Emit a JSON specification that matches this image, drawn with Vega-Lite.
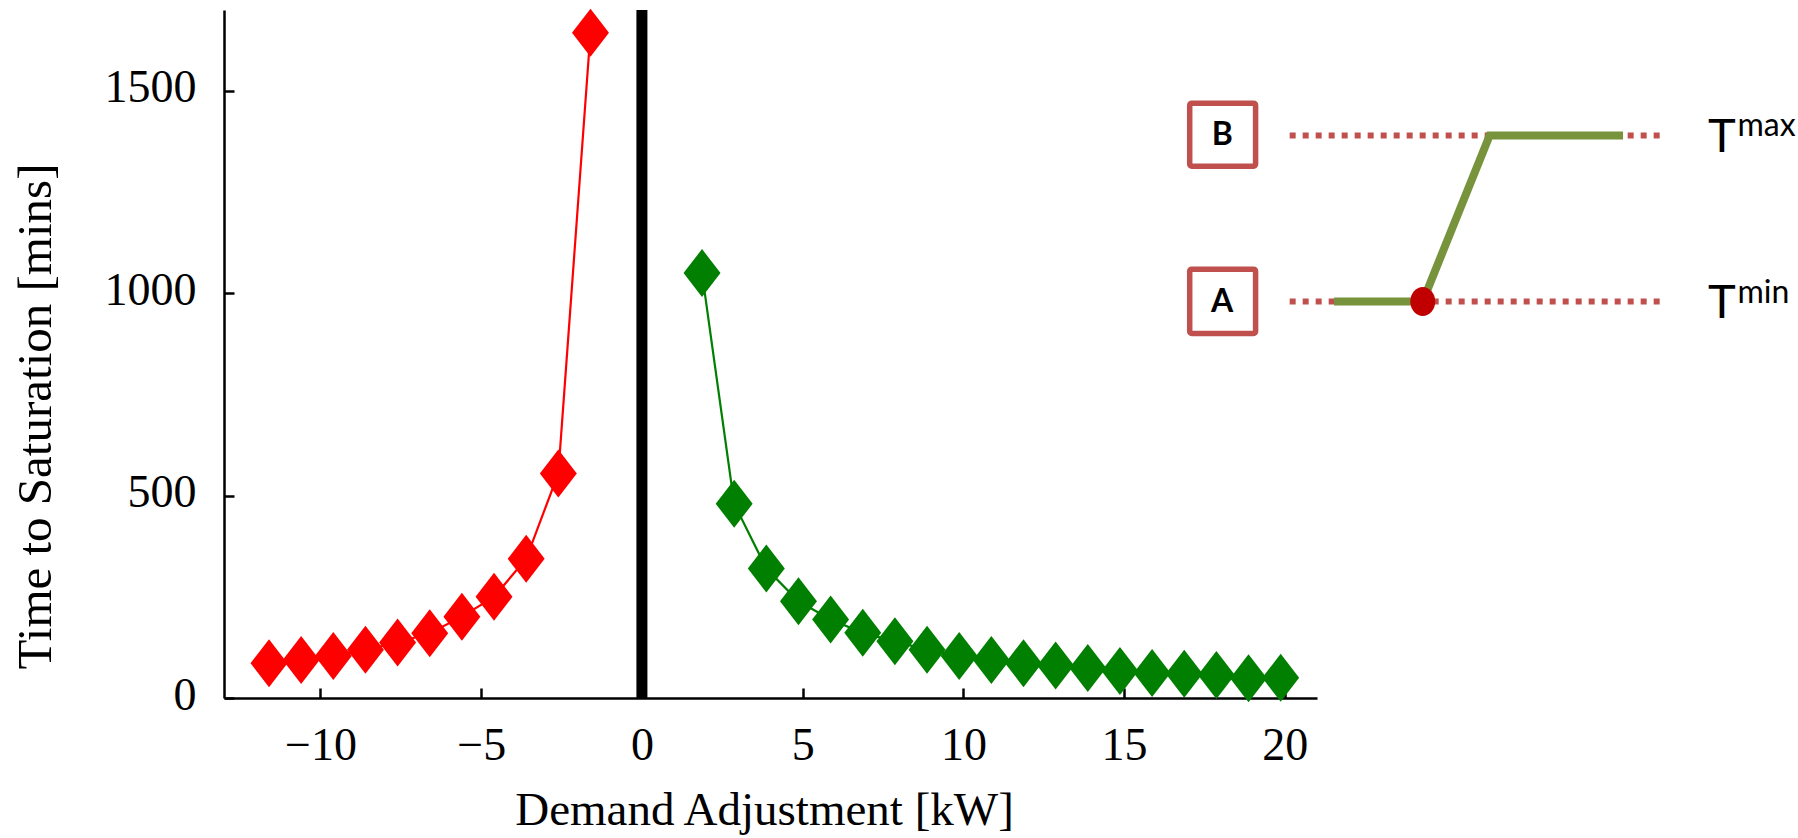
{
  "$schema": "https://vega.github.io/schema/vega-lite/v6.json",
  "width": 1093,
  "height": 688,
  "autosize": {"type": "none"},
  "padding": {"left": 224, "top": 10, "right": 481, "bottom": 140},
  "background": "white",
  "config": {
    "view": {"stroke": null},
    "axis": {
      "domainColor": "black", "tickColor": "black", "labelColor": "black", "titleColor": "black",
      "domainWidth": 2.5, "tickWidth": 2.5, "grid": false, "tickSize": -10,
      "labelFont": "Liberation Serif", "titleFont": "Liberation Serif",
      "labelFontSize": 46, "titleFontSize": 47, "titleFontWeight": "normal",
      "labelOverlap": false, "labelFlush": false
    }
  },
  "datasets": {
    "curves": [
      {"x": -11.6, "y": 86, "series": "negative"},
      {"x": -10.6, "y": 94, "series": "negative"},
      {"x": -9.6, "y": 104, "series": "negative"},
      {"x": -8.6, "y": 119, "series": "negative"},
      {"x": -7.6, "y": 137, "series": "negative"},
      {"x": -6.6, "y": 160, "series": "negative"},
      {"x": -5.6, "y": 201, "series": "negative"},
      {"x": -4.6, "y": 250, "series": "negative"},
      {"x": -3.6, "y": 344, "series": "negative"},
      {"x": -2.6, "y": 555, "series": "negative"},
      {"x": -1.6, "y": 1644, "series": "negative"},
      {"x": 1.87, "y": 1050, "series": "positive"},
      {"x": 2.87, "y": 480, "series": "positive"},
      {"x": 3.87, "y": 320, "series": "positive"},
      {"x": 4.87, "y": 239, "series": "positive"},
      {"x": 5.87, "y": 194, "series": "positive"},
      {"x": 6.87, "y": 161, "series": "positive"},
      {"x": 7.87, "y": 140, "series": "positive"},
      {"x": 8.87, "y": 119, "series": "positive"},
      {"x": 9.87, "y": 104, "series": "positive"},
      {"x": 10.87, "y": 94, "series": "positive"},
      {"x": 11.87, "y": 86, "series": "positive"},
      {"x": 12.87, "y": 80, "series": "positive"},
      {"x": 13.87, "y": 74, "series": "positive"},
      {"x": 14.87, "y": 67, "series": "positive"},
      {"x": 15.87, "y": 62, "series": "positive"},
      {"x": 16.87, "y": 60, "series": "positive"},
      {"x": 17.87, "y": 57, "series": "positive"},
      {"x": 18.87, "y": 49, "series": "positive"},
      {"x": 19.87, "y": 50, "series": "positive"}
    ],
    "zeroline": [{"x": 0, "y": 0, "y2": 1700}],
    "levels": [
      {"x": 20.15, "x2": 31.85, "y": 1390, "level": "Tmax"},
      {"x": 20.15, "x2": 31.85, "y": 980, "level": "Tmin"}
    ],
    "profile": [
      {"x": 21.53, "y": 980},
      {"x": 24.29, "y": 980},
      {"x": 26.37, "y": 1390},
      {"x": 30.52, "y": 1390}
    ],
    "switchpoint": [{"x": 24.29, "y": 980}],
    "boxes": [
      {"x": 17.04, "x2": 19.09, "y": 1469.7, "y2": 1314.1, "label": "B"},
      {"x": 17.04, "x2": 19.09, "y": 1059.6, "y2": 900.7, "label": "A"}
    ],
    "boxlabels": [
      {"x": 18.05, "y": 1391, "label": "B"},
      {"x": 18.05, "y": 979, "label": "A"}
    ],
    "tletters": [
      {"x": 33.16, "y": 1350, "label": "T"},
      {"x": 33.16, "y": 939, "label": "T"}
    ],
    "tsup": [
      {"x": 34.08, "y": 1388.7, "label": "max"},
      {"x": 34.08, "y": 976.8, "label": "min"}
    ]
  },
  "layer": [
    {
      "data": {"name": "curves"},
      "mark": {"type": "line", "strokeWidth": 2.2},
      "encoding": {
        "x": {
          "field": "x", "type": "quantitative",
          "scale": {"domain": [-13, 21], "nice": false, "zero": false},
          "axis": {
            "values": [-10, -5, 0, 5, 10, 15, 20],
            "format": "d",
            "labelPadding": 35,
            "title": "Demand Adjustment [kW]",
            "titleX": 540, "titleY": 126, "titleBaseline": "alphabetic", "titleAlign": "center"
          }
        },
        "y": {
          "field": "y", "type": "quantitative",
          "scale": {"domain": [0, 1700], "nice": false, "zero": true},
          "axis": {
            "values": [0, 500, 1000, 1500],
            "format": "d",
            "labelPadding": 38, "labelOffset": -3,
            "title": "Time to Saturation [mins]",
            "titleFontSize": 49,
            "titleX": -174, "titleY": 406, "titleAngle": 270,
            "titleBaseline": "alphabetic", "titleAlign": "center"
          }
        },
        "color": {
          "field": "series", "type": "nominal",
          "scale": {"domain": ["negative", "positive"], "range": ["#FF0000", "#007F00"]},
          "legend": null
        }
      }
    },
    {
      "data": {"name": "curves"},
      "mark": {"type": "point", "shape": "M0,-1L0.77,0L0,1L-0.77,0Z", "filled": true, "opacity": 1, "size": 2304},
      "encoding": {
        "x": {"field": "x", "type": "quantitative"},
        "y": {"field": "y", "type": "quantitative"},
        "color": {"field": "series", "type": "nominal", "legend": null}
      }
    },
    {
      "data": {"name": "zeroline"},
      "mark": {"type": "rule", "color": "black", "strokeWidth": 11},
      "encoding": {
        "x": {"field": "x", "type": "quantitative"},
        "y": {"field": "y", "type": "quantitative"},
        "y2": {"field": "y2"}
      }
    },
    {
      "data": {"name": "levels"},
      "mark": {"type": "rule", "color": "#C0504D", "strokeWidth": 6, "strokeDash": [6, 7], "strokeCap": "butt"},
      "encoding": {
        "x": {"field": "x", "type": "quantitative"},
        "x2": {"field": "x2"},
        "y": {"field": "y", "type": "quantitative"}
      }
    },
    {
      "data": {"name": "profile"},
      "mark": {"type": "line", "color": "#77933C", "strokeWidth": 8, "strokeCap": "butt", "strokeJoin": "miter"},
      "encoding": {
        "x": {"field": "x", "type": "quantitative"},
        "y": {"field": "y", "type": "quantitative"}
      }
    },
    {
      "data": {"name": "switchpoint"},
      "mark": {"type": "point", "shape": "M0,-1A0.86,1,0,1,1,0,1A0.86,1,0,1,1,0,-1Z", "filled": true, "opacity": 1, "size": 841, "color": "#C00000"},
      "encoding": {
        "x": {"field": "x", "type": "quantitative"},
        "y": {"field": "y", "type": "quantitative"}
      }
    },
    {
      "data": {"name": "boxes"},
      "mark": {"type": "rect", "fill": "white", "stroke": "#C0504D", "strokeWidth": 5.5, "cornerRadius": 2},
      "encoding": {
        "x": {"field": "x", "type": "quantitative"},
        "x2": {"field": "x2"},
        "y": {"field": "y", "type": "quantitative"},
        "y2": {"field": "y2"}
      }
    },
    {
      "data": {"name": "boxlabels"},
      "mark": {"type": "text", "font": "Lato", "fontWeight": "bold", "fontSize": 32, "align": "center", "baseline": "middle", "color": "black"},
      "encoding": {
        "x": {"field": "x", "type": "quantitative"},
        "y": {"field": "y", "type": "quantitative"},
        "text": {"field": "label"}
      }
    },
    {
      "data": {"name": "tletters"},
      "mark": {"type": "text", "font": "Lato", "fontSize": 47, "align": "left", "baseline": "alphabetic", "color": "black"},
      "encoding": {
        "x": {"field": "x", "type": "quantitative"},
        "y": {"field": "y", "type": "quantitative"},
        "text": {"field": "label"}
      }
    },
    {
      "data": {"name": "tsup"},
      "mark": {"type": "text", "font": "Lato", "fontSize": 32, "align": "left", "baseline": "alphabetic", "color": "black"},
      "encoding": {
        "x": {"field": "x", "type": "quantitative"},
        "y": {"field": "y", "type": "quantitative"},
        "text": {"field": "label"}
      }
    }
  ]
}
